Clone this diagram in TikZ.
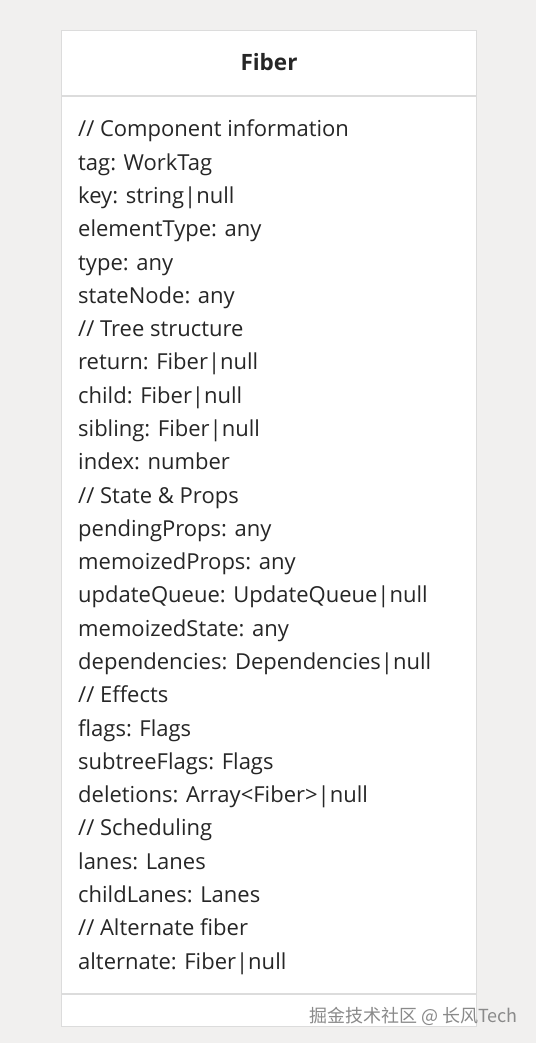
\documentclass[tikz,border=0pt]{standalone}
\usepackage{fontspec}
\setmainfont{Open Sans}
\newfontfamily\cjkfont{Noto Sans CJK SC}
\definecolor{bg}{HTML}{F1F0EF}
\definecolor{edge}{HTML}{DCDCDC}
\definecolor{txt}{HTML}{262626}
\definecolor{wm}{HTML}{8A8A8A}
\begin{document}
\begin{tikzpicture}[x=1pt,y=-1pt,
  field/.style={anchor=base west,inner sep=0pt,text=txt,font=\fontsize{22}{26}\selectfont},
  titlestyle/.style={anchor=base,inner sep=0pt,text=txt,font=\fontsize{22.5}{26}\selectfont\bfseries},
  boxline/.style={draw=edge,line width=1.2pt}]
\fill[bg] (0,0) rectangle (536,1043);
\useasboundingbox (0,0) rectangle (536,1043);
\node[draw=edge,line width=1.2pt,fill=white,minimum width=415pt,minimum height=996pt,anchor=north west,inner sep=0pt] (box) at (61,30) {};
\coordinate (h1) at (61,96);
\coordinate (h2) at (476,96);
\coordinate (f1) at (61,994);
\coordinate (f2) at (476,994);
\draw[boxline] (h1) -- (h2);
\draw[boxline] (f1) -- (f2);
\node[titlestyle] (title) at (269,71) {Fiber};
\foreach \t [count=\i from 0] in {
 {// Component information},
 {tag: WorkTag},
 {key: string|null},
 {elementType: any},
 {type: any},
 {stateNode: any},
 {// Tree structure},
 {return: Fiber|null},
 {child: Fiber|null},
 {sibling: Fiber|null},
 {index: number},
 {// State \& Props},
 {pendingProps: any},
 {memoizedProps: any},
 {updateQueue: UpdateQueue|null},
 {memoizedState: any},
 {dependencies: Dependencies|null},
 {// Effects},
 {flags: Flags},
 {subtreeFlags: Flags},
 {deletions: Array<Fiber>|null},
 {// Scheduling},
 {lanes: Lanes},
 {childLanes: Lanes},
 {// Alternate fiber},
 {alternate: Fiber|null}} {
  \node[field] (l\i) at (78,{137+33.28*\i}) {\t};
}
\node[anchor=base east,inner sep=0pt,text=wm,font=\cjkfont\fontsize{18}{21}\selectfont] (wmark) at (518,1022) {掘金技术社区 @ 长风Tech};
\end{tikzpicture}
\end{document}
